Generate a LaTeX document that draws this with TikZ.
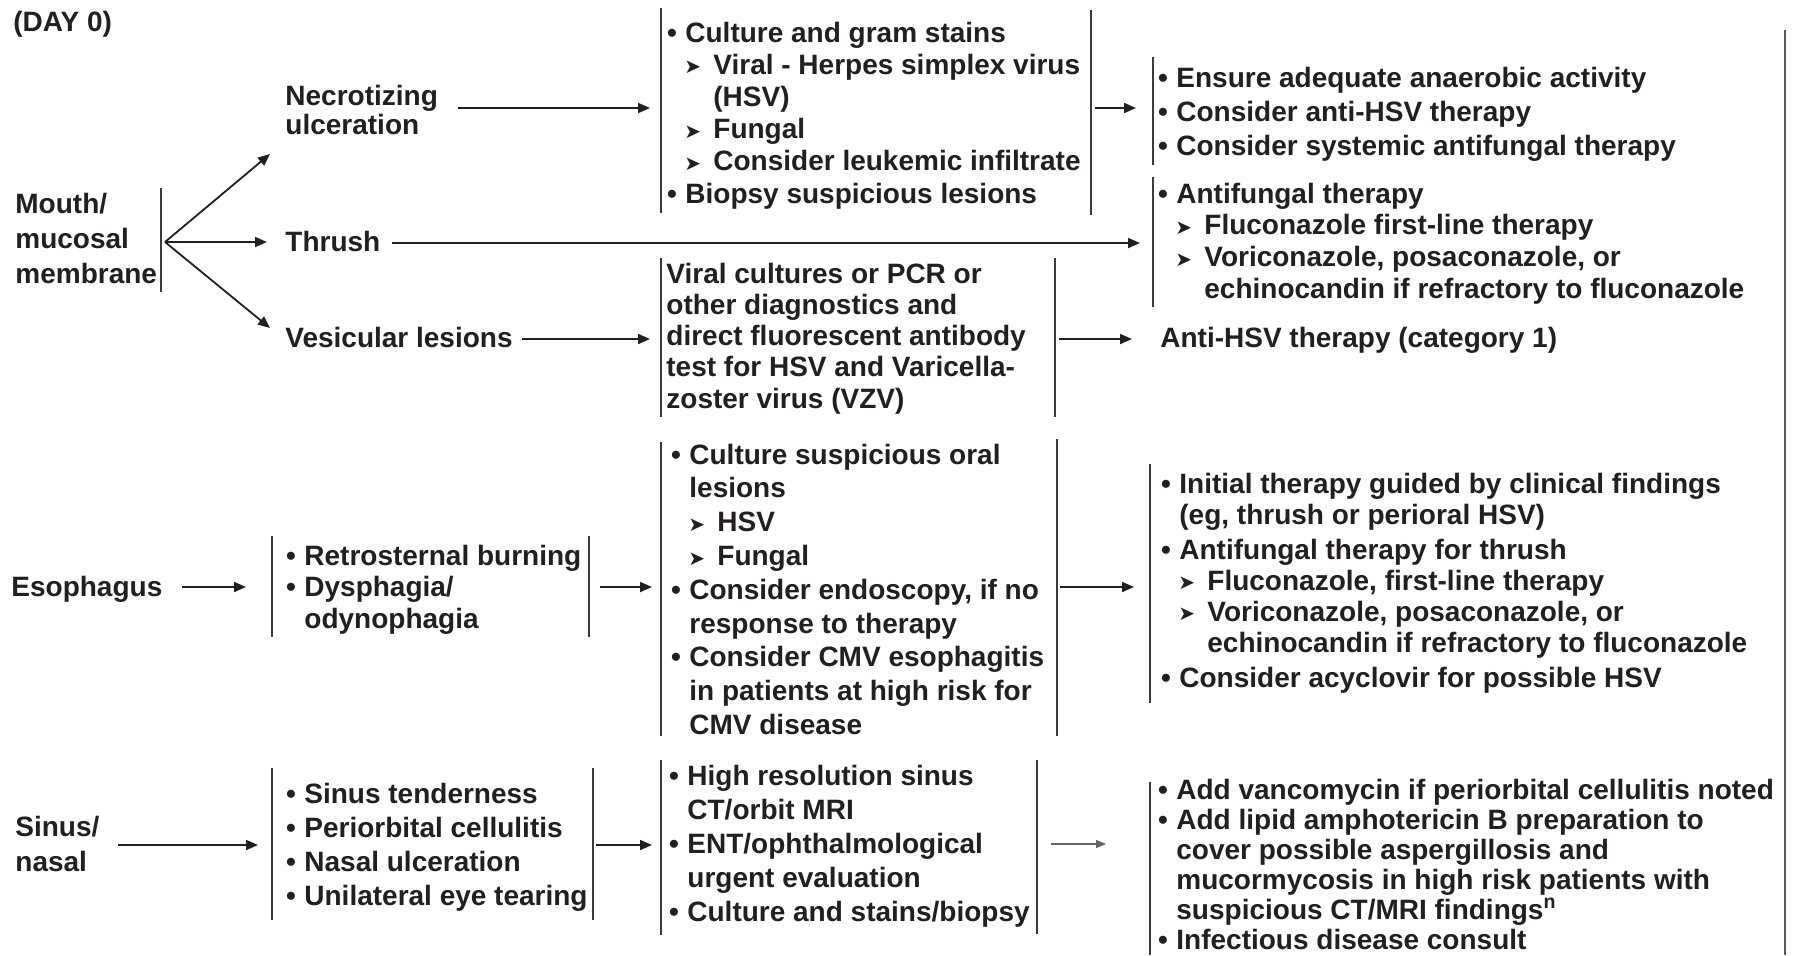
\documentclass[tikz,border=0pt]{standalone}
\usepackage{fontspec}
\setmainfont{Liberation Sans}
\newfontfamily\dvsans{DejaVu Sans}
\usetikzlibrary{arrows.meta}
\definecolor{ink}{HTML}{231F20}
\definecolor{rule}{HTML}{3A3A3A}
% one line of a text block
\newcommand\Rw[1]{\hbox{#1}}
% main bullet, sub bullet, and their continuation indents
\newcommand\Bu{\makebox[7pt][l]{\hskip-2.2pt•}}
\newcommand\Sb{\hskip6.5pt\makebox[14.5pt][l]{\raisebox{0.2pt}{\dvsans\fontsize{10}{10}\selectfont ➤}}}
\newcommand\Ct{\hskip7pt}
\newcommand\Sc{\hskip21pt}
% a block of lines with a given line pitch; its baseline is the first line's
\newcommand\Blk[2]{\vtop{\baselineskip=#1\lineskiplimit=-20pt\lineskip=0pt #2}}
\newcommand\Gap[1]{\vskip#1}
\begin{document}
\begin{tikzpicture}[x=0.5pt,y=-0.5pt,
  txt/.style={inner sep=0pt, anchor=base west, text=ink,
    font=\fontsize{14}{16}\selectfont\bfseries},
  bar/.style={draw=rule, line width=0.8pt},
  arr/.style={draw=ink, line width=0.9pt, -{Triangle[length=6pt,width=5pt]}},
  arrthin/.style={draw=black!60, line width=0.6pt, -{Triangle[length=5pt,width=4pt]}},
  frame/.style={draw=black!65, line width=1.3pt}]
\useasboundingbox (0,0) rectangle (1799,955);
\fill[white] (0,0) rectangle (1799,955);

% ---------- header ----------
\node[txt] (day) at (13,31) {(DAY 0)};

% ---------- mouth / mucosal membrane ----------
\node[txt] (mouth) at (15,213) {\Blk{17.5pt}{\Rw{Mouth/}\Rw{mucosal}\Rw{membrane}}};
\draw[bar] (161,188) -- (161,292);
\coordinate (fork) at (165,242);
\coordinate (necroIn) at (270,154);
\coordinate (thrushIn) at (267,242);
\coordinate (vesicIn) at (270,328);
\draw[arr] (fork) -- (necroIn);
\draw[arr] (fork) -- (thrushIn);
\draw[arr] (fork) -- (vesicIn);

\node[txt] (necro) at (285,105) {\Blk{14.75pt}{\Rw{Necrotizing}\Rw{ulceration}}};
\node[txt] (thrush) at (285,251) {Thrush};
\node[txt] (vesic) at (285,347) {Vesicular lesions};

% necrotizing ulceration: work-up
\coordinate (necroOut) at (458,108);
\coordinate (cultIn) at (650,108);
\draw[arr] (necroOut) -- (cultIn);
\draw[bar] (661,8) -- (661,213);
\draw[bar] (1091,10) -- (1091,215);
\node[txt] (cult) at (671,42) {\Blk{16.1pt}{%
  \Rw{\Bu Culture and gram stains}
  \Rw{\Sb Viral - Herpes simplex virus}
  \Rw{\Sc (HSV)}
  \Rw{\Sb Fungal}
  \Rw{\Sb Consider leukemic infiltrate}
  \Rw{\Bu Biopsy suspicious lesions}}};
\coordinate (cultOut) at (1095,108);
\coordinate (anaerIn) at (1136,108);
\draw[arr] (cultOut) -- (anaerIn);

\draw[bar] (1153,57) -- (1153,165);
\node[txt] (anaer) at (1162,87) {\Blk{17pt}{%
  \Rw{\Bu Ensure adequate anaerobic activity}
  \Rw{\Bu Consider anti-HSV therapy}
  \Rw{\Bu Consider systemic antifungal therapy}}};

% thrush
\coordinate (thrushOut) at (392,243);
\coordinate (fungIn) at (1140,243);
\draw[arr] (thrushOut) -- (fungIn);
\draw[bar] (1153,177) -- (1153,307);
\node[txt] (fung) at (1162,203) {\Blk{15.85pt}{%
  \Rw{\Bu Antifungal therapy}
  \Rw{\Sb Fluconazole first-line therapy}
  \Rw{\Sb Voriconazole, posaconazole, or}
  \Rw{\Sc echinocandin if refractory to fluconazole}}};

% vesicular lesions
\coordinate (vesicOut) at (522,339);
\coordinate (viralIn) at (650,339);
\draw[arr] (vesicOut) -- (viralIn);
\draw[bar] (661,258) -- (661,417);
\draw[bar] (1055,258) -- (1055,417);
\node[txt] (viral) at (666,283) {\Blk{15.65pt}{%
  \Rw{Viral cultures or PCR or}
  \Rw{other diagnostics and}
  \Rw{direct fluorescent antibody}
  \Rw{test for HSV and Varicella-}
  \Rw{zoster virus (VZV)}}};
\coordinate (viralOut) at (1059,339);
\coordinate (antiIn) at (1132,339);
\draw[arr] (viralOut) -- (antiIn);
\node[txt] (anti) at (1160,347) {Anti-HSV therapy (category 1)};

% right-hand frame line
\draw[frame] (1785,30) -- (1785,955);

% ---------- esophagus ----------
\node[txt] (esoph) at (11,596) {Esophagus};
\coordinate (esophOut) at (182,587);
\coordinate (esymIn) at (246,587);
\draw[arr] (esophOut) -- (esymIn);
\draw[bar] (272,536) -- (272,637);
\draw[bar] (589,536) -- (589,637);
\node[txt] (esym) at (290,565) {\Blk{15.75pt}{%
  \Rw{\Bu Retrosternal burning}
  \Rw{\Bu Dysphagia/}
  \Rw{\Ct odynophagia}}};
\coordinate (esymOut) at (600,587);
\coordinate (etestIn) at (652,587);
\draw[arr] (esymOut) -- (etestIn);
\draw[bar] (661,442) -- (661,736);
\draw[bar] (1057,439) -- (1057,736);
\node[txt] (etest) at (675,464) {\Blk{16.9pt}{%
  \Rw{\Bu Culture suspicious oral}
  \Rw{\Ct lesions}
  \Rw{\Sb HSV}
  \Rw{\Sb Fungal}
  \Rw{\Bu Consider endoscopy, if no}
  \Rw{\Ct response to therapy}
  \Rw{\Bu Consider CMV esophagitis}
  \Rw{\Ct in patients at high risk for}
  \Rw{\Ct CMV disease}}};
\coordinate (etestOut) at (1060,587);
\coordinate (etreatIn) at (1134,587);
\draw[arr] (etestOut) -- (etreatIn);
\draw[bar] (1150,464) -- (1150,703);
\node[txt] (etreat) at (1165,493) {\Blk{15.5pt}{%
  \Rw{\Bu Initial therapy guided by clinical findings}
  \Rw{\Ct (eg, thrush or perioral HSV)}
  \Gap{2pt}
  \Rw{\Bu Antifungal therapy for thrush}
  \Rw{\Sb Fluconazole, first-line therapy}
  \Rw{\Sb Voriconazole, posaconazole, or}
  \Rw{\Sc echinocandin if refractory to fluconazole}
  \Gap{2pt}
  \Rw{\Bu Consider acyclovir for possible HSV}}};

% ---------- sinus / nasal ----------
\node[txt] (sinus) at (15,836) {\Blk{17.5pt}{\Rw{Sinus/}\Rw{nasal}}};
\coordinate (sinusOut) at (118,845);
\coordinate (ssymIn) at (258,845);
\draw[arr] (sinusOut) -- (ssymIn);
\draw[bar] (272,768) -- (272,920);
\draw[bar] (593,768) -- (593,920);
\node[txt] (ssym) at (290,803) {\Blk{17pt}{%
  \Rw{\Bu Sinus tenderness}
  \Rw{\Bu Periorbital cellulitis}
  \Rw{\Bu Nasal ulceration}
  \Rw{\Bu Unilateral eye tearing}}};
\coordinate (ssymOut) at (596,845);
\coordinate (stestIn) at (652,845);
\draw[arr] (ssymOut) -- (stestIn);
\draw[bar] (661,760) -- (661,935);
\draw[bar] (1037,760) -- (1037,934);
\node[txt] (stest) at (673,785) {\Blk{17pt}{%
  \Rw{\Bu High resolution sinus}
  \Rw{\Ct CT/orbit MRI}
  \Rw{\Bu ENT/ophthalmological}
  \Rw{\Ct urgent evaluation}
  \Rw{\Bu Culture and stains/biopsy}}};
\coordinate (stestOut) at (1051,844);
\coordinate (streatIn) at (1106,844);
\draw[arrthin] (stestOut) -- (streatIn);
\draw[bar] (1150,782) -- (1150,955);
\node[txt] (streat) at (1162,799) {\Blk{15pt}{%
  \Rw{\Bu Add vancomycin if periorbital cellulitis noted}
  \Rw{\Bu Add lipid amphotericin B preparation to}
  \Rw{\Ct cover possible aspergillosis and}
  \Rw{\Ct mucormycosis in high risk patients with}
  \Rw{\Ct suspicious CT/MRI findings\textsuperscript{n}}
  \Rw{\Bu Infectious disease consult}}};
\end{tikzpicture}
\end{document}
